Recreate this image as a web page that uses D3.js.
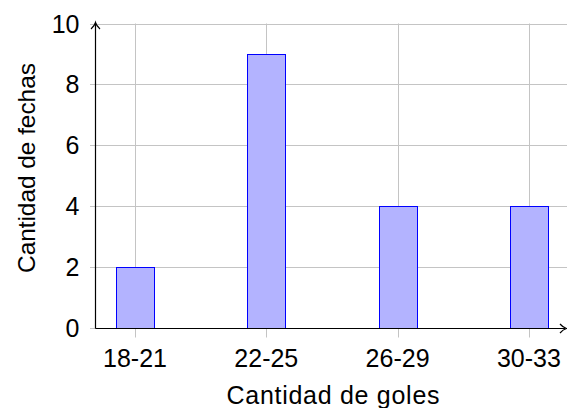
<!DOCTYPE html>
<html>
<head>
<meta charset="utf-8">
<script src="https://cdn.jsdelivr.net/npm/d3@7"></script>
<style>
  html, body { margin: 0; padding: 0; background: #fff; }
  svg { display: block; font-family: "Liberation Sans", Arial, Helvetica, sans-serif; }
</style>
</head>
<body>
<svg id="chart" width="567" height="408"></svg>
<script>
// Histogram of match days by number of goals
const categories = ["18-21", "22-25", "26-29", "30-33"];
const counts = [2, 9, 4, 4];
const yTicks = [0, 2, 4, 6, 8, 10];
const xTitle = "Cantidad de goles";
const yTitle = "Cantidad de fechas";

(function () {
  const svg = d3.select("#chart");
  const W = 567;
  const plotLeft = 95, plotRight = 563, plotTop = 23.5, plotBottom = 327.5;

  const x = d3.scaleLinear().domain([-0.305, 3.26]).range([plotLeft, plotRight]);
  const y = d3.scaleLinear().domain([0, 10]).range([plotBottom, plotTop]);
  const barW = 38;
  const fontSize = 25;

  // grid
  const grid = svg.append("g").attr("stroke", "#c4c4c4").attr("stroke-width", 1);
  grid.selectAll("line.h").data(yTicks).join("line")
    .attr("class", "h")
    .attr("x1", plotLeft - 5).attr("x2", W)
    .attr("y1", d => Math.round(y(d)) + 0.5).attr("y2", d => Math.round(y(d)) + 0.5);
  grid.selectAll("line.v").data(categories).join("line")
    .attr("class", "v")
    .attr("x1", (d, i) => Math.round(x(i)) + 0.5).attr("x2", (d, i) => Math.round(x(i)) + 0.5)
    .attr("y1", plotTop).attr("y2", plotBottom + 10);

  // bars
  svg.append("g").selectAll("rect").data(counts).join("rect")
    .attr("x", (d, i) => Math.round(x(i) - barW / 2) + 0.5)
    .attr("width", barW)
    .attr("y", d => Math.round(y(d)) + 0.5)
    .attr("height", d => Math.round(y(0)) - Math.round(y(d)))
    .attr("fill", "#b3b3ff")
    .attr("stroke", "#0000ff")
    .attr("stroke-width", 1);

  // axes with arrowheads
  const axisG = svg.append("g").attr("stroke", "#000").attr("fill", "none").attr("stroke-width", 1.2);
  const ax0 = Math.round(plotLeft) + 0.5, ay0 = Math.round(y(0)) + 0.5;
  axisG.append("line").attr("x1", ax0).attr("y1", ay0).attr("x2", 565).attr("y2", ay0);
  axisG.append("line").attr("x1", ax0).attr("y1", ay0).attr("x2", ax0).attr("y2", 23.5);
  axisG.append("path")
    .attr("d", `M 560 ${ay0 - 4.5} Q 563 ${ay0 - 1} 566.5 ${ay0} Q 563 ${ay0 + 1} 560 ${ay0 + 4.5}`);
  axisG.append("path")
    .attr("d", `M ${ax0 - 4.5} 29 Q ${ax0 - 1} 26 ${ax0} 22.5 Q ${ax0 + 1} 26 ${ax0 + 4.5} 29`);

  // y tick labels
  svg.append("g").selectAll("text").data(yTicks).join("text")
    .attr("x", 79.5)
    .attr("y", d => y(d))
    .attr("dy", "0.36em")
    .attr("text-anchor", "end")
    .attr("font-size", fontSize)
    .attr("fill", "#000")
    .text(d => d);

  // x tick labels
  svg.append("g").selectAll("text").data(categories).join("text")
    .attr("x", (d, i) => x(i))
    .attr("y", 367)
    .attr("text-anchor", "middle")
    .attr("font-size", fontSize)
    .attr("fill", "#000")
    .text(d => d);

  // axis titles
  svg.append("text")
    .attr("x", 333)
    .attr("y", 403.5)
    .attr("text-anchor", "middle")
    .attr("font-size", fontSize)
    .attr("textLength", 213)
    .attr("lengthAdjust", "spacing")
    .attr("fill", "#000")
    .text(xTitle);

  svg.append("text")
    .attr("transform", "translate(34.5, 168) rotate(-90)")
    .attr("text-anchor", "middle")
    .attr("font-size", 24.5)
    .attr("textLength", 210)
    .attr("lengthAdjust", "spacing")
    .attr("fill", "#000")
    .text(yTitle);
})();
</script>
</body>
</html>
